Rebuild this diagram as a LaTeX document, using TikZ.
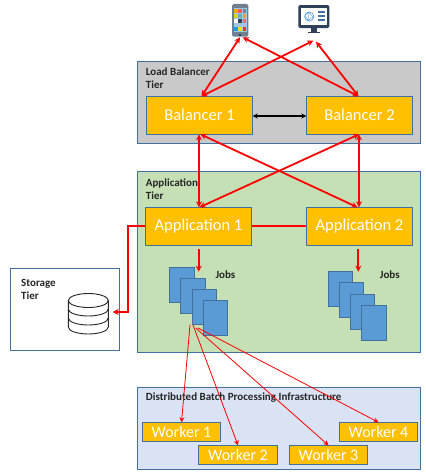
\documentclass[tikz,border=0pt]{standalone}
\usepackage{fontspec}
\setmainfont{Carlito}
\usetikzlibrary{arrows.meta}
\definecolor{edgeblue}{HTML}{41719C}
\definecolor{amber}{HTML}{FFC000}
\definecolor{docblue}{HTML}{5B9BD5}
\definecolor{tiergray}{HTML}{C9C9C9}
\definecolor{tiergreen}{HTML}{C5E0B4}
\definecolor{tierblue}{HTML}{DAE3F3}
\definecolor{navy}{HTML}{2F4058}
\definecolor{phonegray}{HTML}{6F7F90}
\definecolor{phonescreen}{HTML}{9CC8E8}
\tikzset{
  x=1pt,y=-1pt,
  tier/.style={draw=edgeblue,line width=0.8pt,rectangle,inner sep=0pt,outer sep=0pt},
  appbox/.style={draw=edgeblue,line width=0.8pt,fill=amber,rectangle,inner sep=0pt,outer sep=0pt,text=white,font=\fontsize{16.5}{18}\selectfont,minimum width=106.4pt,minimum height=38pt},
  workerbox/.style={draw=edgeblue,line width=0.8pt,fill=amber,rectangle,inner sep=0pt,outer sep=0pt,text=white,font=\fontsize{16}{18}\selectfont,minimum width=78.4pt,minimum height=19pt},
  docbox/.style={draw=edgeblue,line width=0.7pt,fill=docblue,rectangle,inner sep=0pt,outer sep=0pt,minimum width=24.6pt,minimum height=35.2pt},
  tierlabel/.style={anchor=west,align=left,inner sep=0pt,font=\bfseries\fontsize{11}{13}\selectfont,text=black!85},
  mark node/.style={inner sep=0pt,outer sep=0pt,minimum size=0pt},
  bothred/.style={draw=red,line width=1.8pt,{Stealth[length=6pt,width=6pt]}-{Stealth[length=6pt,width=6pt]}},
  upright red/.style={draw=red,line width=2pt,{Stealth[length=6pt,width=6pt]}-{Stealth[length=6pt,width=6pt]}},
  blackboth/.style={draw=black,line width=2pt,{Stealth[length=5pt,width=5pt]}-{Stealth[length=5pt,width=5pt]}},
  plainred/.style={draw=red,line width=1.9pt},
  onered/.style={draw=red,line width=1.8pt,-{Stealth[length=6pt,width=6pt]}},
  thinred/.style={draw=red,line width=0.8pt,-{Stealth[length=5pt,width=5pt]}},
  dbline/.style={draw=black!85,line width=0.9pt,fill=white}
}
\begin{document}
\begin{tikzpicture}
\useasboundingbox (0,0) rectangle (426,475);
% tiers
\node[tier,fill=tiergray,minimum width=283.4pt,minimum height=82pt] (lbt) at (279,102.3) {};
\node[tier,fill=tiergreen,minimum width=283.4pt,minimum height=180.6pt] (apt) at (279,262) {};
\node[tier,fill=white,minimum width=109.4pt,minimum height=82pt] (stt) at (65,309.3) {};
\node[tier,fill=tierblue,minimum width=283.4pt,minimum height=82pt] (dbt) at (279,428.3) {};
% boxes
\node[appbox] (b1) at (199.5,115.3) {Balancer 1};
\node[appbox] (b2) at (359.5,115.3) {Balancer 2};
\node[appbox] (a1) at (198.5,226.3) {Application 1};
\node[appbox] (a2) at (359.5,226.3) {Application 2};
\node[workerbox] (w1) at (181.5,431.8) {Worker 1};
\node[workerbox] (w2) at (238,454.8) {Worker 2};
\node[workerbox] (w3) at (328.5,454.8) {Worker 3};
\node[workerbox] (w4) at (378.5,431.8) {Worker 4};
% labels
\node[tierlabel] (l1) at (145.7,78) {Load Balancer\\Tier};
\node[tierlabel] (l2) at (145.7,189) {Application\\Tier};
\node[tierlabel] (l3) at (21,289.5) {Storage\\[0.7pt]Tier};
\node[tierlabel] (l4) at (145.7,397.3) {Distributed Batch Processing Infrastructure};
\node[tierlabel] (j1) at (215.3,274.7) {Jobs};
\node[tierlabel] (j2) at (379.7,274.7) {Jobs};
% documents
\node[docbox] (d1) at (182,284.8) {};
\node[docbox] (d2) at (193,295.8) {};
\node[docbox] (d3) at (204.5,306.8) {};
\node[docbox] (d4) at (215.5,318) {};
\node[docbox] (e1) at (340.5,289) {};
\node[docbox] (e2) at (351.5,300) {};
\node[docbox] (e3) at (362.5,311.5) {};
\node[docbox] (e4) at (374,323) {};
% phone
\node[mark node,fill=phonegray,rounded corners=1.5pt,minimum width=16.3pt,minimum height=32.7pt] (phone) at (240.2,20.3) {};
\fill[phonescreen] (233.5,8) rectangle (247,32);
\foreach \cx/\cy/\cc in {236/11/orange!70!yellow,240/11/red!65,244.5/11/gray,236/16/yellow!85!black,240/16/teal!60,244.5/16/orange!80,236/21/white,240/21/navy,244.5/21/red!60,236/29/cyan!70!teal,240/29/yellow!80!orange,244.5/29/red!60!orange}
  \fill[\cc] (\cx-1.6,\cy-1.8) rectangle (\cx+1.6,\cy+1.8);
\fill[navy] (239.2,33.6) rectangle (241.2,35.6);
% monitor
\node[mark node,fill=navy,rounded corners=1.5pt,minimum width=31pt,minimum height=23pt] (monitor) at (313.8,16.5) {};
\fill[navy] (311,27) rectangle (316.6,31.5);
\fill[navy] (307.5,31.5) rectangle (320.2,33);
\fill[white] (301,8) rectangle (326.7,25);
\draw[docblue,line width=0.7pt] (309.2,16.5) circle (4.6);
\draw[docblue,line width=0.4pt] (305,15) -- (309,12.5) -- (313,17) -- (308,20.5) -- (305,15) (309,12.5) -- (308,20.5);
\fill[edgeblue] (317.5,11.2) rectangle (325,12.7);
\fill[edgeblue] (317.5,15.2) rectangle (325,16.7);
\fill[edgeblue] (317.5,19.4) rectangle (325,20.9);
% database
\node[mark node,minimum width=40pt,minimum height=40pt] (db) at (88.3,313.5) {};
\path[dbline] (68.3,300.5) -- (68.3,327) arc[start angle=180,end angle=360,x radius=20,y radius=-7] -- (108.3,300.5) -- cycle;
\draw[dbline,fill=none] (68.3,309) arc[start angle=180,end angle=360,x radius=20,y radius=-7];
\draw[dbline,fill=none] (68.3,318) arc[start angle=180,end angle=360,x radius=20,y radius=-7];
\draw[dbline] (88.3,300.5) ellipse (20 and 7);
% connectors
\coordinate (pb) at (240,37.3);
\coordinate (pc) at (242.7,37.3);
\coordinate (mb) at (313.3,40.7);
\coordinate (mc) at (316,41.7);
\draw[bothred] ([xshift=2pt]b1.north) -- (pb);
\draw[bothred] ([xshift=2pt]b1.north) -- (mb);
\draw[bothred] ([xshift=-1pt]b2.north) -- (pc);
\draw[bothred] ([xshift=-1pt]b2.north) -- (mc);
\draw[upright red] ([xshift=-0.5pt]b1.south) -- ([xshift=0.5pt]a1.north);
\draw[bothred] ([xshift=1pt]b1.south) -- ([xshift=-2pt]a2.north);
\draw[bothred] ([xshift=-0.5pt]b2.south) -- ([xshift=1pt]a1.north);
\draw[upright red] ([xshift=-0.5pt]b2.south) -- ([xshift=-0.5pt]a2.north);
\draw[blackboth] ([yshift=-0.7pt]b1.east) -- ([yshift=-0.7pt]b2.west);
\draw[plainred] (a1.east) -- (a2.west);
\coordinate (stc) at (112.7,312);
\draw[onered] (a1.west) -- (127.7,226.3) -- (127.7,312) -- (stc);
\coordinate (j1t) at (198.7,249);
\coordinate (j1b) at (198.7,271.7);
\coordinate (j2t) at (358.3,249);
\coordinate (j2b) at (358.3,271.7);
\draw[onered] (j1t) -- (j1b);
\draw[onered] (j2t) -- (j2b);
\coordinate (s1) at (190,324.7);
\coordinate (s2) at (193,325);
\coordinate (s3) at (195.7,328);
\coordinate (s4) at (198,328);
\draw[thinred] (s1) -- (w1.north);
\draw[thinred] (s2) -- (w2.north);
\draw[thinred] (s3) -- (w3.north);
\draw[thinred] (s4) -- (w4.north);
\end{tikzpicture}
\end{document}
